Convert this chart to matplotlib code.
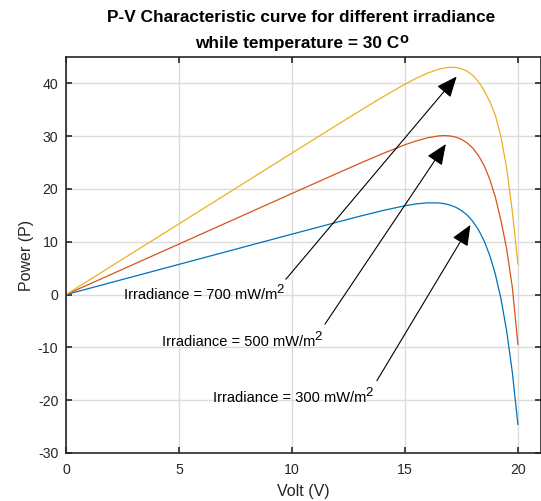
import numpy as np
import matplotlib
matplotlib.use("Agg")
import matplotlib.pyplot as plt

plt.rcParams['font.family'] = ['Liberation Sans', 'DejaVu Sans']
plt.rcParams['axes.unicode_minus'] = False

# voltage samples (V) and power (P)
volt = [0, 2, 4, 6, 8, 10, 12, 13, 14, 15, 15.5, 16, 16.5, 16.75, 17, 17.25, 17.5, 17.75,
        18, 18.25, 18.5, 18.75, 19, 19.25, 19.5, 19.75, 20]
p_300 = [0, 2.29, 4.58, 6.87, 9.16, 11.45, 13.72, 14.84, 15.90, 16.83, 17.18, 17.38, 17.36, 17.22,
         16.95, 16.54, 15.93, 15.08, 13.90, 12.32, 10.23, 7.47, 3.88, -0.79, -6.83, -14.6, -24.6]
p_500 = [0, 3.83, 7.66, 11.49, 15.32, 19.15, 22.96, 24.85, 26.68, 28.38, 29.11, 29.70, 30.06, 30.12,
         30.04, 29.83, 29.41, 28.74, 27.76, 26.37, 24.48, 21.91, 18.51, 14.03, 8.7, 1.5, -9.4]
p_700 = [0, 5.36, 10.72, 16.08, 21.44, 26.8, 32.14, 34.79, 37.39, 39.85, 40.97, 41.94, 42.69, 42.93,
         43.05, 43.02, 42.79, 42.32, 41.53, 40.33, 38.7, 36.6, 34.0, 29.9, 24.0, 15.9, 5.8]

labels = ['Irradiance = 300 mW/m', 'Irradiance = 500 mW/m', 'Irradiance = 700 mW/m']
colors = ['#0072BD', '#D95319', '#EDB120']
# arrow tail / head (data units) and text anchor (right edge, baseline)
arrow_tail = [(13.76, -16.3), (11.46, -5.6), (9.73, 2.9)]
arrow_head = [(17.9, 13.2), (16.81, 28.5), (17.29, 41.3)]
text_pos = [(13.3, -20.4), (11.05, -9.8), (9.34, -0.76)]

xticks = [0, 5, 10, 15, 20]
yticks = [-30, -20, -10, 0, 10, 20, 30, 40]

W, H = 541, 501
fig = plt.figure(figsize=(W / 100, H / 100), dpi=100)
ax = fig.add_axes([66 / W, 1 - 453 / H, (540.5 - 66) / W, (453 - 57) / H])

for p, c in zip([p_300, p_500, p_700], colors):
    ax.plot(volt, p, color=c, lw=0.9)

for lab, t, h, tp in zip(labels, arrow_tail, arrow_head, text_pos):
    ax.annotate('', xy=h, xytext=t,
                arrowprops=dict(arrowstyle='-|>,head_length=0.8,head_width=0.34',
                                color='black', lw=0.8, mutation_scale=16, shrinkA=0, shrinkB=0))
    txt = ax.text(tp[0], tp[1], lab, ha='right', va='baseline', fontsize=10.5, color='black')
    # superscript 2 (MATLAB-style, nearly full size)
    ax.annotate('2', xy=(1, 0), xycoords=txt, xytext=(-1, 9), textcoords='offset pixels',
                ha='left', va='baseline', fontsize=9.5, color='black')

ax.set_xlim(0, 21)
ax.set_ylim(-30, 45)
ax.set_xticks(xticks)
ax.set_yticks(yticks)
ax.grid(True, color='#dcdcdc', lw=1.0)
ax.set_axisbelow(True)
ax.tick_params(direction='in', length=4, width=1.2, top=True, right=True,
               labelsize=10.2, colors='#262626')
ax.tick_params(axis='x', pad=7)
ax.tick_params(axis='y', pad=5.5)
for s in ax.spines.values():
    s.set_linewidth(1.2)
    s.set_color('#262626')

ax.set_xlabel('Volt (V)', fontsize=11.5, color='#262626', labelpad=5)
ax.set_ylabel('Power (P)', fontsize=11.5, color='#262626', labelpad=3)

# two-line bold title with a raised "o"
cx = (66 + 540.5) / 2 / W
fig.text(cx - 2 / W, 1 - 22.3 / H, 'P-V Characteristic curve for different irradiance',
         ha='center', va='baseline', fontsize=12.4, fontweight='bold')
t2 = fig.text(cx - 6 / W, 1 - 48.3 / H, 'while temperature = 30 C',
              ha='center', va='baseline', fontsize=12.4, fontweight='bold')
ax.annotate('o', xy=(1, 0), xycoords=t2, xytext=(0.5, 8), textcoords='offset pixels',
            ha='left', va='baseline', fontsize=10.5, fontweight='bold', annotation_clip=False)

fig.savefig('out.png', dpi=100)
